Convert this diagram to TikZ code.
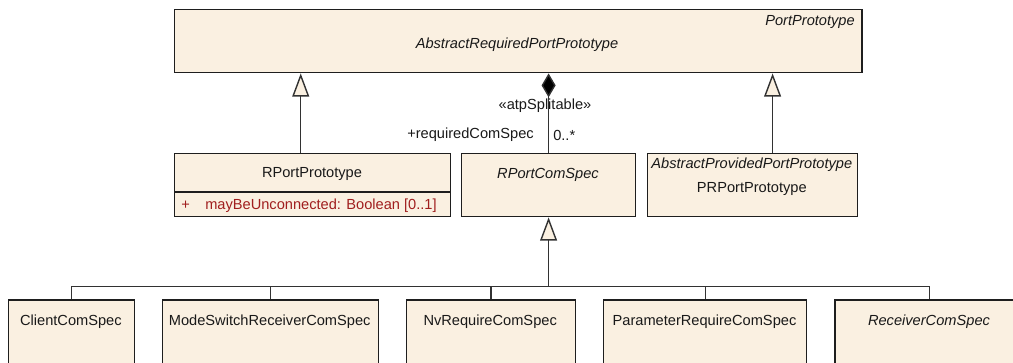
\documentclass[tikz,border=0pt]{standalone}
\usepackage{fontspec}
\setmainfont{Liberation Sans}
\usepackage{tikz}
\usetikzlibrary{arrows.meta, positioning, calc}
\definecolor{umlfill}{RGB}{250,240,225}
\definecolor{umlline}{RGB}{30,30,30}
\definecolor{umlconn}{RGB}{50,50,50}
\definecolor{umltext}{RGB}{25,25,25}
\definecolor{attrred}{RGB}{160,30,30}
\newcommand{\umlfont}{\fontsize{10.4}{12.5}\selectfont}
\tikzset{
  classbox/.style={rectangle, draw=umlline, fill=umlfill, line width=1pt,
    inner sep=0pt, anchor=north west, minimum height=1.575cm},
  clsname/.style={font=\umlfont, text=umltext, inner sep=0pt},
  absname/.style={font=\umlfont\itshape, text=umltext, inner sep=0pt},
  attrtext/.style={font=\umlfont, text=attrred, inner sep=0pt},
  endlabel/.style={font=\umlfont, text=umltext, inner sep=0pt},
  conn/.style={line width=1pt, color=umlconn},
  genarrow/.style={conn, line join=miter,
    -{Triangle[length=16.5pt, width=12pt, fill=umlfill]}},
  comparrow/.style={conn, {Diamond[length=17pt, width=10pt, fill=black]}-}
}

\begin{document}
\begin{tikzpicture}[x=0.025cm, y=-0.025cm]
  \useasboundingbox (0,0) rectangle (1013,362);
  \clip (0,0) rectangle (1013,362);

  % Abstract base class
  \node[classbox, minimum width=17.175cm] (arpp) at (174,9) {};
  \node[absname, anchor=east] (arppstereo) at (855,21.7) {PortPrototype};
  \node[absname] (arppname) at (517,45) {AbstractRequiredPortPrototype};

  % Middle row
  \node[classbox, minimum width=6.9cm] (rpp) at (174,153) {};
  \node[clsname] (rppname) at (312,174.3) {RPortPrototype};
  \draw[line width=1pt, color=umlline] ([yshift=-0.97cm]rpp.north west) -- ([yshift=-0.97cm]rpp.north east);
  \node[attrtext] (rppvis) at (185.7,205.7) {+};
  \node[attrtext, anchor=west] (rppattr) at (205,205.7) {mayBeUnconnected: Boolean [0..1]};

  \node[classbox, minimum width=4.358cm] (rcs) at (460.7,153) {};
  \node[absname] (rcsname) at (548,175) {RPortComSpec};

  \node[classbox, minimum width=5.258cm] (prpp) at (646.7,153) {};
  \node[absname] (prppstereo) at (751.8,165) {AbstractProvidedPortPrototype};
  \node[clsname] (prppname) at (751.8,189) {PRPortPrototype};

  % Bottom row (cut off at the lower edge)
  \node[classbox, minimum width=3.143cm, minimum height=2.2cm] (ccs) at (8,299.3) {};
  \node[clsname] (ccsname) at (70.9,321.7) {ClientComSpec};
  \node[classbox, minimum width=5.4cm, minimum height=2.2cm] (mscs) at (161.7,299.3) {};
  \node[clsname] (mscsname) at (269.7,321.7) {ModeSwitchReceiverComSpec};
  \node[classbox, minimum width=4.225cm, minimum height=2.2cm] (nvcs) at (405.7,299.3) {};
  \node[clsname] (nvcsname) at (490.2,321.7) {NvRequireComSpec};
  \node[classbox, minimum width=5.075cm, minimum height=2.2cm] (pcs) at (603,299.3) {};
  \node[clsname] (pcsname) at (704.5,321.7) {ParameterRequireComSpec};
  \node[classbox, minimum width=4.735cm, minimum height=2.2cm] (rxcs) at (834.3,299.3) {};
  \node[absname] (rxcsname) at (929,321.7) {ReceiverComSpec};

  % Generalizations to the base class
  \draw[genarrow] ([xshift=-0.3cm]rpp.north) -- ([xshift=-0.3cm]rpp.north |- arpp.south);
  \draw[genarrow] ([xshift=0.5cm]prpp.north) -- ([xshift=0.5cm]prpp.north |- arpp.south);

  % Composition
  \draw[comparrow] (arpp.south -| rcs.north) -- (rcs.north);
  \node[endlabel] (splitlbl) at (545,106) {«atpSplitable»};
  \node[endlabel, anchor=east] (rolelbl) at (534,135) {+requiredComSpec};
  \node[endlabel, anchor=west] (multlbl) at (553,135) {0..*};

  % Specializations of RPortComSpec
  \coordinate (bus) at (rcs.south |- ccs.north);
  \coordinate (bus) at ([yshift=0.316cm]bus);
  \draw[genarrow] (bus) -- (rcs.south);
  \foreach \n in {ccs,mscs,nvcs,pcs,rxcs}
    \draw[conn] (\n.north) |- (bus);
\end{tikzpicture}
\end{document}
